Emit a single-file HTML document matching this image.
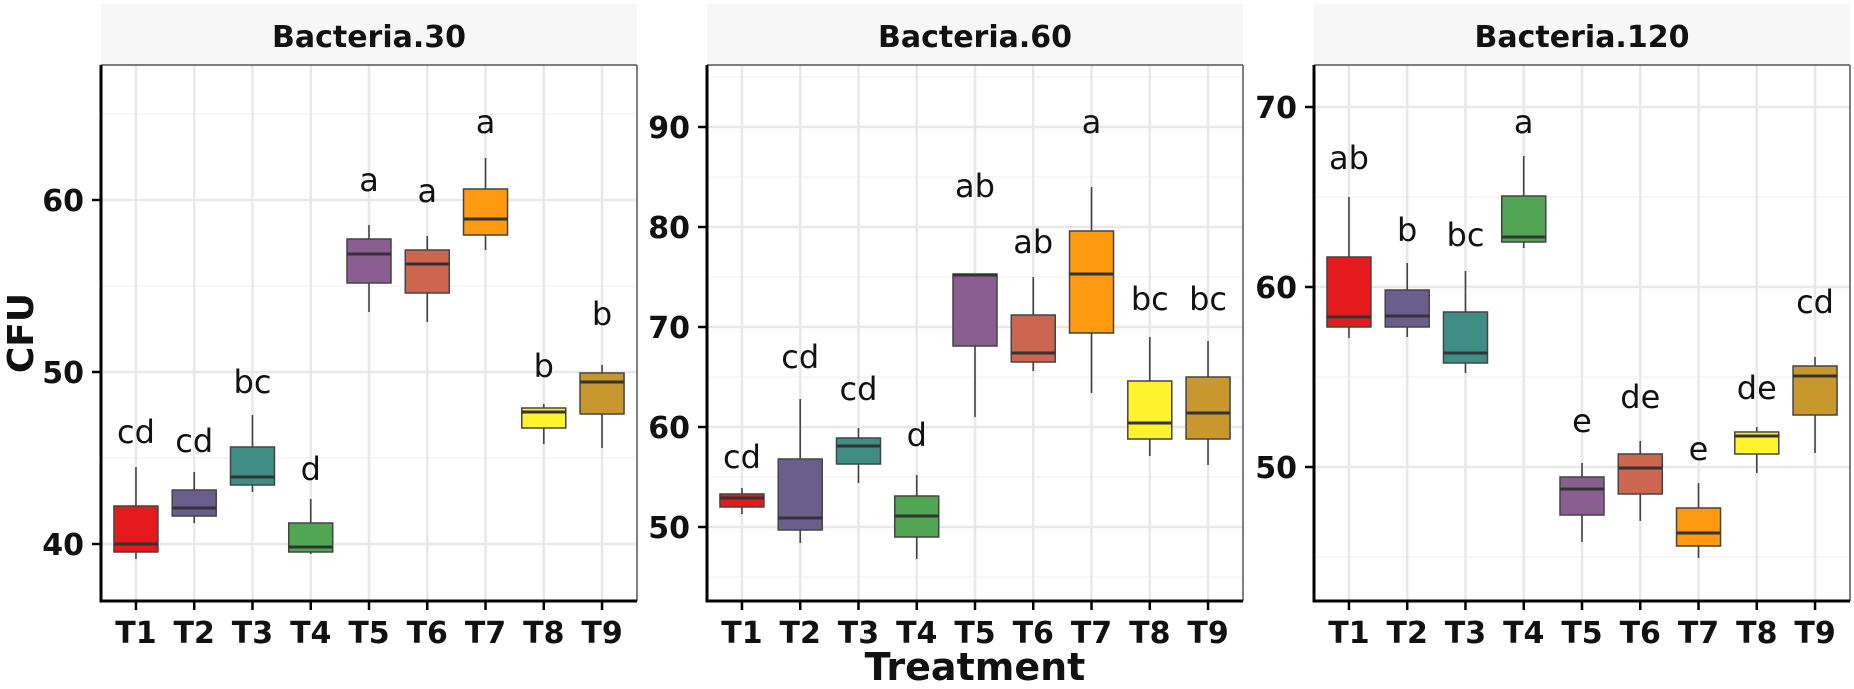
<!DOCTYPE html>
<html><head><meta charset="utf-8"><style>
html,body{margin:0;padding:0;background:#fff;}
svg{display:block;}
text{font-family:"DejaVu Sans","Liberation Sans",sans-serif;}
</style></head><body>
<svg id="s" width="1854" height="689" viewBox="0 0 1854 689" xmlns="http://www.w3.org/2000/svg"></svg>
<script>
var S=document.getElementById('s');var h='';
var cols=['#e41a1c','#6b5d8c','#3e8e86','#52a552','#8a5e90','#cc6650','#ff9910','#fff22f','#c8982f'];
var panels=[
{L:101,title:'Bacteria.30',maj:[[40,544],[50,372],[60,200]],min:[458,286,114],
 b:[[467,506,544,552,559,443,'cd'],[472,490,508,516,523,452,'cd'],[415,447,477,485,492,393,'bc'],[499,523,547,552,554,480,'d'],[225,239,254,283,312,191,'a'],[236,250,264,293,322,202,'a'],[158,189,219,235,250,133,'a'],[404,408,412,428,444,377,'b'],[365,373,382,414,448,325,'b']]},
{L:707,title:'Bacteria.60',maj:[[50,527],[60,427],[70,327],[80,227],[90,127]],min:[577,477,377,277,177,77],
 b:[[488,494,498,507,514,468,'cd'],[399,459,518,530,543,368,'cd'],[428,438,446,464,483,400,'cd'],[475,496,516,537,559,446,'d'],[274,274,275,346,417,197,'ab'],[277,315,353,362,371,253,'ab'],[187,231,274,333,393,133,'a'],[337,381,423,439,456,310,'bc'],[341,377,413,439,465,310,'bc']]},
{L:1314,title:'Bacteria.120',maj:[[50,467],[60,287],[70,107]],min:[557,377,197],
 b:[[197,257,317,327,338,169,'ab'],[263,290,316,327,337,241,'b'],[271,312,353,363,373,246,'bc'],[156,196,237,242,248,133,'a'],[463,477,489,515,542,432,'e'],[441,454,468,494,521,408,'de'],[483,508,533,546,558,460,'e'],[427,432,436,454,473,399,'de'],[357,366,376,415,453,313,'cd']]}
];
var T=65,B=601,W=536,st=W/9.2;
panels.forEach(function(p){
 var L=p.L,R=L+W;
 h+='<rect x="'+L+'" y="4" width="'+W+'" height="'+(T-4)+'" fill="#f7f7f7"/>';
 h+='<text x="'+(L+W/2)+'" y="47" font-size="30" font-weight="bold" text-anchor="middle" fill="#111">'+p.title+'</text>';
 p.min.forEach(function(y){h+='<line x1="'+L+'" x2="'+R+'" y1="'+y+'" y2="'+y+'" stroke="#f2f2f2" stroke-width="1.3"/>';});
 p.maj.forEach(function(m){h+='<line x1="'+L+'" x2="'+R+'" y1="'+m[1]+'" y2="'+m[1]+'" stroke="#e8e8e8" stroke-width="2.5"/>';
  h+='<line x1="'+(L-9)+'" x2="'+L+'" y1="'+m[1]+'" y2="'+m[1]+'" stroke="#000" stroke-width="2.5"/>';
  h+='<text x="'+(L-17)+'" y="'+(m[1]+11)+'" font-size="30" font-weight="bold" text-anchor="end" fill="#111">'+m[0]+'</text>';});
 for(var i=0;i<9;i++){var x=L+(0.6+i)*st;
  h+='<line x1="'+x+'" x2="'+x+'" y1="'+T+'" y2="'+B+'" stroke="#e8e8e8" stroke-width="2.5"/>';}
 p.b.forEach(function(d,i){var x=L+(0.6+i)*st,hw=22;
  h+='<line x1="'+x+'" x2="'+x+'" y1="'+d[0]+'" y2="'+d[4]+'" stroke="#444" stroke-width="1.6"/>';
  h+='<rect x="'+(x-hw)+'" y="'+d[1]+'" width="'+(2*hw)+'" height="'+Math.max(d[3]-d[1],1)+'" fill="'+cols[i]+'" stroke="#444" stroke-width="1.5"/>';
  h+='<line x1="'+(x-hw)+'" x2="'+(x+hw)+'" y1="'+d[2]+'" y2="'+d[2]+'" stroke="#333" stroke-width="3"/>';
  h+='<text x="'+x+'" y="'+d[5]+'" font-size="32" text-anchor="middle" fill="#111">'+d[6]+'</text>';
  h+='<line x1="'+x+'" x2="'+x+'" y1="'+B+'" y2="'+(B+9)+'" stroke="#000" stroke-width="2.5"/>';
  h+='<text x="'+x+'" y="643" font-size="30" font-weight="bold" text-anchor="middle" fill="#111">T'+(i+1)+'</text>';
 });
 h+='<line x1="'+L+'" x2="'+R+'" y1="'+T+'" y2="'+T+'" stroke="#555" stroke-width="1.5"/>';
 h+='<line x1="'+R+'" x2="'+R+'" y1="'+T+'" y2="'+B+'" stroke="#555" stroke-width="1.5"/>';
 h+='<line x1="'+L+'" x2="'+L+'" y1="'+T+'" y2="'+(B+1.5)+'" stroke="#000" stroke-width="3"/>';
 h+='<line x1="'+(L-1.5)+'" x2="'+R+'" y1="'+B+'" y2="'+B+'" stroke="#000" stroke-width="3"/>';
});
h+='<text x="975" y="680" font-size="38" font-weight="bold" text-anchor="middle" fill="#111">Treatment</text>';
h+='<text transform="translate(33,333) rotate(-90)" x="0" y="0" font-size="36" font-weight="bold" text-anchor="middle" fill="#111">CFU</text>';
S.innerHTML=h;
</script>
</body></html>
